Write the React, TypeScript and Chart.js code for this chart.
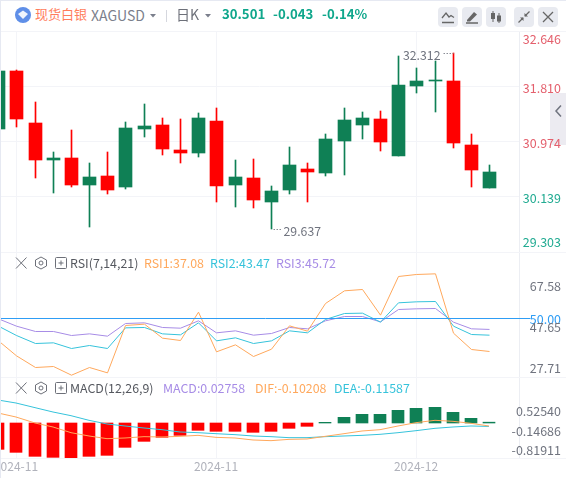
import React, { useEffect, useRef } from "react";
import { Chart, registerables } from "chart.js";

Chart.register(...registerables);

// ---------- data ----------
const opens = [31.157, 32.038, 31.252, 30.685, 30.716, 30.306, 30.442, 30.275, 31.157, 31.217, 30.837, 30.792, 31.278, 30.306, 30.412, 30.047, 30.230, 30.549, 30.488, 30.974, 31.217, 31.309, 30.746, 31.810, 31.886, 31.886, 30.914, 30.260];
const closes = [32.038, 31.309, 30.690, 30.716, 30.306, 30.427, 30.230, 31.172, 31.202, 30.853, 30.792, 31.324, 30.290, 30.427, 30.078, 30.214, 30.610, 30.503, 31.005, 31.293, 31.324, 30.959, 31.825, 31.886, 31.901, 30.944, 30.534, 30.503];
const highs = [32.053, 32.053, 31.567, 30.807, 31.141, 30.640, 30.807, 31.263, 31.537, 31.324, 31.309, 31.400, 31.476, 30.685, 30.701, 30.290, 30.883, 30.640, 31.081, 31.476, 31.415, 31.430, 32.266, 32.084, 32.190, 32.312, 31.081, 30.610];
const lows = [31.157, 31.192, 30.416, 30.184, 30.275, 29.667, 30.169, 30.245, 31.035, 30.761, 30.640, 30.731, 30.047, 29.971, 29.956, 29.637, 30.169, 30.047, 30.442, 30.458, 31.005, 30.822, 30.746, 31.704, 31.415, 30.868, 30.275, 30.260];

const rsi1 = [41.25, 35.38, 30.81, 31.2, 27.81, 30.81, 28.72, 47.26, 47.78, 42.3, 41.38, 52.48, 36.95, 39.69, 35.12, 37.99, 47.13, 45.04, 55.87, 60.84, 61.36, 51.31, 66.45, 67.23, 67.49, 44.26, 37.86, 37.08];
const rsi2 = [47.0, 43.34, 40.21, 40.47, 38.25, 39.43, 38.25, 46.34, 46.48, 43.99, 43.6, 48.3, 41.25, 42.43, 40.21, 41.25, 45.17, 44.39, 49.61, 51.96, 52.09, 48.56, 56.14, 56.53, 56.66, 47.0, 43.73, 43.47];
const rsi3 = [49.87, 47.0, 44.91, 44.91, 43.34, 43.99, 43.08, 48.04, 48.3, 46.48, 46.21, 49.09, 44.39, 45.17, 43.47, 44.13, 46.48, 45.95, 49.09, 50.78, 50.78, 48.69, 53.52, 53.79, 53.92, 48.56, 45.95, 45.72];

const macdHist = [-0.896, -0.998, -1.134, -1.168, -1.202, -1.134, -1.1, -0.828, -0.624, -0.488, -0.42, -0.249, -0.283, -0.283, -0.317, -0.283, -0.181, -0.113, 0.023, 0.193, 0.295, 0.295, 0.431, 0.499, 0.533, 0.363, 0.159, 0.028];
const dif = [0.34, 0.204, 0, -0.136, -0.329, -0.442, -0.533, -0.51, -0.465, -0.476, -0.454, -0.42, -0.488, -0.51, -0.578, -0.601, -0.556, -0.544, -0.454, -0.363, -0.272, -0.227, -0.102, 0.011, 0.091, 0.057, -0.011, -0.102];
const dea = [0.782, 0.68, 0.522, 0.374, 0.249, 0.091, -0.034, -0.102, -0.17, -0.227, -0.306, -0.329, -0.363, -0.397, -0.442, -0.465, -0.499, -0.499, -0.465, -0.442, -0.42, -0.385, -0.329, -0.261, -0.181, -0.136, -0.102, -0.116];

const dateTickIndexes = [1, 12, 23];
const dateTickLabels = ["2024-11", "2024-11", "2024-12"];

const priceTickLabels = ["32.646", "31.810", "30.974", "30.139", "29.303"];
const priceTickSpots = [32.555, 31.81, 30.974, 30.139, 29.47];
const rsiTickLabels = ["67.58", "50.00", "47.65", "27.71"];
const rsiTickSpots = [67.58, 51.71, 47.65, 27.71];
const rsiMidline = [50, 50];
const macdTickLabels = ["0.52540", "-0.14686", "-0.81911"];
const macdTickSpots = [0.5254, -0.14686, -0.81911];

// ---------- styles ----------
const UP = "#0f8055";
const DOWN = "#ff0000";
const GRID = "#f3f4f8";
const AXIS = "#eceef3";
const ORANGE = "#ffa85c";
const TEAL = "#36c3db";
const PURPLE = "#a78ce6";
const BLUE = "#2e9df5";
const TEXT = "#70747f";
const FONT = '"Noto Sans CJK SC", "Noto Sans", sans-serif';

const CANDLE_STEP = 18.18;
const CANDLE_ORIGIN = -1.29;
const PLOT_RIGHT = 519;
const X_MIN = (0 - CANDLE_ORIGIN) / CANDLE_STEP;
const X_MAX = (PLOT_RIGHT - CANDLE_ORIGIN) / CANDLE_STEP;

const xy = (values: number[]) => values.map((y, x) => ({ x, y }));

function makeX(showLabels: boolean, half: number) {
  return {
    type: "linear",
    min: X_MIN,
    max: X_MAX,
    offset: false,
    afterBuildTicks(scale: any) {
      scale.ticks = dateTickIndexes.map((value) => ({ value }));
      if (!scale.__snapped) {
        const orig = scale.getPixelForValue.bind(scale);
        scale.getPixelForValue = (v: number) => Math.floor(orig(v)) + half;
        scale.__snapped = true;
      }
    },
    afterFit(scale: any) {
      scale.height = showLabels ? 20 : 0;
      scale.paddingLeft = 0;
      scale.paddingRight = 0;
      scale._computeLabelArea = () => undefined;
    },
    border: { display: false },
    grid: { color: GRID, drawTicks: false, offset: false, lineWidth: 1 },
    ticks: {
      display: showLabels,
      autoSkip: false,
      maxRotation: 0,
      minRotation: 0,
      padding: 1,
      color: "#b0b2bb",
      font: { family: FONT, size: 12 },
      callback: (v: number) => dateTickLabels[dateTickIndexes.indexOf(v)] ?? "",
    },
  };
}

function makeLabelAxis(min: number, max: number, spots: number[], labels: string[], opts: any = {}) {
  return {
    type: "linear",
    position: "right",
    min,
    max,
    afterBuildTicks(scale: any) {
      scale.ticks = spots.map((value) => ({ value }));
      if (opts.snap && !scale.__snapped) {
        const orig = scale.getPixelForValue.bind(scale);
        scale.getPixelForValue = (v: number) => Math.round(orig(v));
        scale.__snapped = true;
      }
    },
    afterFit(scale: any) {
      scale.width = 42;
      scale.paddingTop = 0;
      scale.paddingBottom = 0;
      // long labels run past the axis line, as in the reference
      scale._computeLabelArea = () => undefined;
    },
    border: { display: true, color: AXIS },
    grid: opts.grid ?? { display: false, drawTicks: false },
    ticks: {
      autoSkip: false,
      crossAlign: "far",
      padding: 0,
      labelOffset: opts.labelOffset ?? 0,
      color: opts.color ?? TEXT,
      font: { family: FONT, size: 12.5 },
      callback: (_v: number, i: number) => labels[i],
    },
  };
}

const basePlugins = { legend: { display: false }, tooltip: { enabled: false } };
const baseOptions = {
  responsive: false,
  animation: false,
  events: [],
  layout: { padding: { left: 0, right: 5, top: 0, bottom: 0 } },
};

const extremesPlugin = {
  id: "extremes",
  afterDatasetsDraw(chart: any) {
    const { x, y } = chart.scales;
    const ctx = chart.ctx;
    const hiVal = Math.max(...highs);
    const loVal = Math.min(...lows);
    const hiX = x.getPixelForValue(highs.indexOf(hiVal));
    const loX = x.getPixelForValue(lows.indexOf(loVal));
    const hiY = y.getPixelForValue(hiVal);
    const loY = y.getPixelForValue(loVal);
    ctx.save();
    ctx.strokeStyle = "#8a8d96";
    ctx.setLineDash([1.5, 1.5]);
    ctx.beginPath();
    ctx.moveTo(hiX - 10, Math.round(hiY) + 0.5);
    ctx.lineTo(hiX, Math.round(hiY) + 0.5);
    ctx.moveTo(loX + 2, Math.round(loY) + 0.5);
    ctx.lineTo(loX + 11, Math.round(loY) + 0.5);
    ctx.stroke();
    ctx.setLineDash([]);
    ctx.fillStyle = TEXT;
    ctx.font = `12.3px ${FONT}`;
    ctx.textBaseline = "middle";
    ctx.textAlign = "right";
    ctx.fillText(hiVal.toFixed(3), hiX - 13, hiY + 2);
    ctx.textAlign = "left";
    ctx.fillText(loVal.toFixed(3), loX + 12, loY + 2);
    ctx.restore();
  },
};

function PriceChart() {
  const ref = useRef<HTMLCanvasElement>(null);
  useEffect(() => {
    const colors = opens.map((o, i) => (closes[i] >= o ? UP : DOWN));
    const chart = new Chart(ref.current!, {
      type: "bar",
      data: {
        datasets: [
          {
            label: "wick",
            data: highs.map((h, i) => ({ x: i, y: [lows[i], h] })),
            backgroundColor: colors,
            barThickness: 1,
            grouped: false,
            order: 2,
          },
          {
            label: "body",
            data: opens.map((o, i) => ({ x: i, y: [o, closes[i]] })),
            backgroundColor: colors,
            barThickness: 13,
            grouped: false,
            order: 1,
          },
        ],
      },
      options: {
        ...baseOptions,
        plugins: basePlugins,
        scales: {
          x: makeX(false, 0.5),
          y: makeLabelAxis(32.646 - 221 / 65.8, 32.646, priceTickSpots, priceTickLabels, {
            snap: true,
            labelOffset: 2,
            color: (c: any) => (c.index < 3 ? "#e4606d" : "#22ab92"),
            grid: {
              drawTicks: false,
              color: (c: any) => (c.index >= 1 && c.index <= 3 ? GRID : "rgba(0,0,0,0)"),
            },
          }),
        },
      } as any,
      plugins: [extremesPlugin],
    } as any);
    return () => chart.destroy();
  }, []);
  return <canvas ref={ref} width={566} height={221} style={{ position: "absolute", left: 0, top: 31 }} />;
}

function RsiChart() {
  const ref = useRef<HTMLCanvasElement>(null);
  useEffect(() => {
    const line = (label: string, data: number[], color: string) => ({
      label,
      data: xy(data),
      borderColor: color,
      borderWidth: 1,
      pointRadius: 0,
      tension: 0,
      yAxisID: "y",
    });
    const chart = new Chart(ref.current!, {
      type: "line",
      data: {
        datasets: [
          {
            label: "50",
            data: [
              { x: X_MIN, y: rsiMidline[0] },
              { x: (530 - CANDLE_ORIGIN) / CANDLE_STEP, y: rsiMidline[1] },
            ],
            borderColor: BLUE,
            borderWidth: 1,
            pointRadius: 0,
            clip: false,
            yAxisID: "y",
          },
          line("RSI1", rsi1, ORANGE),
          line("RSI2", rsi2, TEAL),
          line("RSI3", rsi3, PURPLE),
        ],
      },
      options: {
        ...baseOptions,
        plugins: basePlugins,
        scales: {
          x: makeX(false, 0.5),
          y: { display: false, min: 50 - 58.5 / 2.554, max: 50 + 66.5 / 2.554 },
          yLabels: makeLabelAxis(23.7, 84, rsiTickSpots, rsiTickLabels, {
            color: (c: any) => (c.index === 1 ? BLUE : TEXT),
          }),
        },
      } as any,
    } as any);
    return () => chart.destroy();
  }, []);
  return <canvas ref={ref} width={566} height={125} style={{ position: "absolute", left: 0, top: 252 }} />;
}

function MacdChart() {
  const ref = useRef<HTMLCanvasElement>(null);
  useEffect(() => {
    const line = (label: string, data: number[], color: string) => ({
      type: "line",
      label,
      data: xy(data),
      borderColor: color,
      borderWidth: 1,
      pointRadius: 0,
      tension: 0,
      order: 1,
    });
    const chart = new Chart(ref.current!, {
      type: "bar",
      data: {
        datasets: [
          {
            label: "MACD",
            data: xy(macdHist),
            backgroundColor: macdHist.map((v) => (v >= 0 ? UP : DOWN)),
            barThickness: 12,
            grouped: false,
            order: 2,
          },
          line("DIF", dif, ORANGE),
          line("DEA", dea, TEAL),
        ],
      },
      options: {
        ...baseOptions,
        plugins: basePlugins,
        scales: {
          x: makeX(true, 0),
          y: makeLabelAxis(-35 / 29.4, 45 / 29.4, macdTickSpots, macdTickLabels, { labelOffset: 3.5 }),
        },
      } as any,
    } as any);
    return () => chart.destroy();
  }, []);
  return <canvas ref={ref} width={566} height={100} style={{ position: "absolute", left: 0, top: 378 }} />;
}

// ---------- page furniture ----------
const abs = (left: number, top: number, extra: any = {}) => ({
  position: "absolute" as const,
  left,
  top,
  whiteSpace: "nowrap" as const,
  ...extra,
});

function Txt({ x, y, color, size = 12.4, weight = 400, children }: any) {
  return (
    <div style={abs(x, y - 10, { color, fontSize: size, fontWeight: weight, lineHeight: "20px", fontFamily: FONT })}>
      {children}
    </div>
  );
}

function Caret({ x, y }: any) {
  return (
    <svg width="6" height="4" style={abs(x, y)}>
      <path d="M0 0H6L3 3.5Z" fill="#7b7f8c" />
    </svg>
  );
}

function ToolBtn({ x, children }: any) {
  return (
    <div style={abs(x, 7, { width: 20, height: 20, borderRadius: 4, background: "#e8eaf0" })}>
      <svg width="20" height="20" viewBox="0 0 20 20" fill="none">
        {children}
      </svg>
    </div>
  );
}

function PaneIcons({ y }: any) {
  return (
    <svg width="56" height="14" style={abs(14, y - 7)} fill="none" stroke="#6d7079" strokeWidth="1">
      <path d="M2 1.5L12.5 12.5M12.5 1.5L2 12.5" />
      <path d="M27 1L32.5 4V10L27 13L21.5 10V4Z" />
      <circle cx="27" cy="7" r="2" />
      <rect x="41.5" y="1.5" width="11" height="11" rx="1" />
      <path d="M47 4.5V9.5M44.5 7H49.5" />
    </svg>
  );
}

export default function App() {
  useEffect(() => {
    document.body.style.margin = "0";
    document.body.style.background = "#ffffff";
  }, []);
  const rule = (top: number, color = GRID) => (
    <div style={abs(0, top, { width: 566, height: 1, background: color })} />
  );
  return (
    <div style={abs(0, 0, { width: 566, height: 478, background: "#fff", overflow: "hidden" })}>
      <div style={abs(550, 93, { width: 16, height: 52, background: "#ecebf1" })}>
        <svg width="16" height="52" fill="none">
          <path d="M11 12.5L6 18L11 23.5" stroke="#70747f" strokeWidth="1.5" />
        </svg>
      </div>

      <PriceChart />
      <RsiChart />
      <MacdChart />

      {rule(0, "#e6e9f2")}
      {rule(31)}
      {rule(252)}
      {rule(377)}
      {rule(458)}
      <div style={abs(0, 0, { width: 1, height: 478, background: "#e6e9f2" })} />

      <svg width="18" height="18" style={abs(14, 6)}>
        <circle cx="9" cy="9" r="8" fill="#5f8fe8" />
        <path d="M9 4.5L14 8L9 13L4 8Z" fill="#ffffff" opacity="0.9" />
      </svg>
      <Txt x={35} y={14} color="#ff7d5c" size={13}>现货白银</Txt>
      <Txt x={91} y={15} color="#7b7f8c" size={14}>XAGUSD</Txt>
      <Caret x={150} y={14} />
      <div style={abs(166, 10, { width: 1, height: 12, background: "#d5d7de" })} />
      <Txt x={176} y={14} color="#6d7079" size={14}>日K</Txt>
      <Caret x={205} y={14} />
      <Txt x={222} y={14} color="#10a78c" size={13.2} weight={700}>30.501</Txt>
      <Txt x={273} y={14} color="#10a78c" size={13.2} weight={700}>-0.043</Txt>
      <Txt x={322} y={14} color="#10a78c" size={13.2} weight={700}>-0.14%</Txt>

      <ToolBtn x={438}>
        <path d="M4 15.5H16" stroke="#666" strokeWidth="1.5" />
        <path d="M4 11L8 6L11 10L13 8.5L16 10.5" stroke="#666" strokeWidth="1.3" />
      </ToolBtn>
      <ToolBtn x={462}>
        <path d="M4 16H16" stroke="#666" strokeWidth="1.5" />
        <path d="M5 13L12 5L15 7.5L8 14.5H5Z" fill="#666" />
      </ToolBtn>
      <ToolBtn x={486}>
        <path d="M7 4V15M13 6V16" stroke="#666" strokeWidth="1" />
        <rect x="5" y="6" width="4" height="6" fill="#666" />
        <rect x="11" y="8.5" width="4" height="6" fill="#666" />
      </ToolBtn>
      <ToolBtn x={514}>
        <path d="M4.5 15.5L9 11M15.5 4.5L11 9" stroke="#666" strokeWidth="1.3" />
        <path d="M6 10.5H9.5V14ZM14 9.5H10.5V6Z" fill="#666" />
      </ToolBtn>
      <ToolBtn x={538}>
        <path d="M5 5L15 15M15 5L5 15" stroke="#666" strokeWidth="1.3" />
      </ToolBtn>

      <PaneIcons y={263} />
      <Txt x={70} y={263} color="#55585f">RSI(7,14,21)</Txt>
      <Txt x={144} y={263} color={ORANGE}>RSI1:37.08</Txt>
      <Txt x={210} y={263} color={TEAL}>RSI2:43.47</Txt>
      <Txt x={276} y={263} color={PURPLE}>RSI3:45.72</Txt>

      <PaneIcons y={388} />
      <Txt x={70} y={388} color="#55585f">MACD(12,26,9)</Txt>
      <Txt x={163} y={388} color={PURPLE}>MACD:0.02758</Txt>
      <Txt x={255} y={388} color={ORANGE}>DIF:-0.10208</Txt>
      <Txt x={334} y={388} color={TEAL}>DEA:-0.11587</Txt>
    </div>
  );
}
